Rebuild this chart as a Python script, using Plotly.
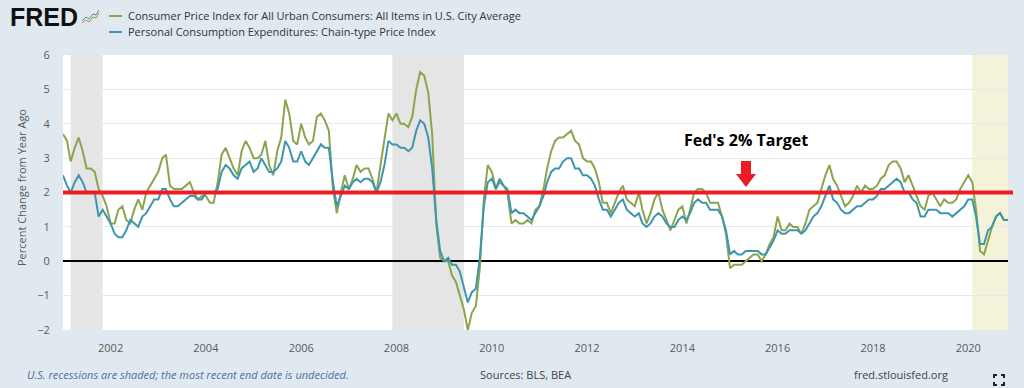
import pandas as pd
import plotly.graph_objects as go

# ---------------- data (monthly, percent change from year ago) ----------------
start_month = "2001-01-01"
cpi = [
    3.7, 3.5, 2.9, 3.3, 3.6, 3.2, 2.7, 2.7, 2.6, 2.1, 1.9, 1.6,   # 2001
    1.1, 1.1, 1.5, 1.6, 1.2, 1.1, 1.5, 1.8, 1.5, 2.0, 2.2, 2.4,   # 2002
    2.6, 3.0, 3.1, 2.2, 2.1, 2.1, 2.1, 2.2, 2.3, 2.0, 1.8, 1.9,   # 2003
    1.9, 1.7, 1.7, 2.3, 3.1, 3.3, 3.0, 2.7, 2.5, 3.2, 3.5, 3.3,   # 2004
    3.0, 3.0, 3.1, 3.5, 2.8, 2.5, 3.2, 3.6, 4.7, 4.3, 3.5, 3.4,   # 2005
    4.0, 3.6, 3.4, 3.5, 4.2, 4.3, 4.1, 3.8, 2.1, 1.4, 2.0, 2.5,   # 2006
    2.1, 2.4, 2.8, 2.6, 2.7, 2.7, 2.4, 2.0, 2.8, 3.5, 4.3, 4.1,   # 2007
    4.3, 4.0, 4.0, 3.9, 4.2, 5.0, 5.5, 5.4, 4.9, 3.7, 1.1, 0.1,   # 2008
    0.0, 0.0, -0.4, -0.6, -1.0, -1.4, -2.0, -1.5, -1.3, -0.2, 1.8, 2.8,  # 2009
    2.6, 2.1, 2.3, 2.2, 2.0, 1.1, 1.2, 1.1, 1.1, 1.2, 1.1, 1.5,   # 2010
    1.6, 2.1, 2.7, 3.2, 3.5, 3.6, 3.6, 3.7, 3.8, 3.5, 3.4, 3.0,   # 2011
    2.9, 2.9, 2.7, 2.3, 1.7, 1.7, 1.4, 1.7, 2.0, 2.2, 1.8, 1.7,   # 2012
    1.6, 2.0, 1.5, 1.1, 1.4, 1.8, 2.0, 1.5, 1.2, 0.9, 1.2, 1.5,   # 2013
    1.6, 1.1, 1.5, 2.0, 2.1, 2.1, 2.0, 1.7, 1.7, 1.7, 1.3, 0.8,   # 2014
    -0.2, -0.1, -0.1, -0.1, 0.0, 0.1, 0.2, 0.2, 0.0, 0.2, 0.5, 0.7,  # 2015
    1.3, 0.9, 0.9, 1.1, 1.0, 1.0, 0.8, 1.1, 1.5, 1.6, 1.7, 2.1,   # 2016
    2.5, 2.8, 2.4, 2.2, 1.9, 1.6, 1.7, 1.9, 2.2, 2.0, 2.2, 2.1,   # 2017
    2.1, 2.2, 2.4, 2.5, 2.8, 2.9, 2.9, 2.7, 2.3, 2.5, 2.2, 1.9,   # 2018
    1.6, 1.5, 1.9, 2.0, 1.8, 1.6, 1.8, 1.7, 1.7, 1.8, 2.1, 2.3,   # 2019
    2.5, 2.3, 1.5, 0.3, 0.2, 0.6, 1.0, 1.3, 1.4, 1.2, 1.2,        # 2020
]
pce = [
    2.5, 2.2, 2.0, 2.3, 2.5, 2.3, 2.0, 2.0, 2.0, 1.3, 1.5, 1.3,   # 2001
    1.1, 0.8, 0.7, 0.7, 0.9, 1.2, 1.1, 1.0, 1.3, 1.4, 1.6, 1.8,   # 2002
    1.8, 2.1, 2.1, 1.8, 1.6, 1.6, 1.7, 1.8, 1.9, 1.9, 1.8, 1.8,   # 2003
    2.0, 2.0, 2.0, 2.1, 2.6, 2.8, 2.7, 2.5, 2.4, 2.7, 2.8, 2.9,   # 2004
    2.6, 2.7, 3.0, 2.8, 2.6, 2.6, 2.7, 2.9, 3.5, 3.3, 2.9, 2.9,   # 2005
    3.2, 2.9, 2.8, 3.0, 3.2, 3.4, 3.3, 3.3, 2.3, 1.6, 1.9, 2.2,   # 2006
    2.1, 2.3, 2.4, 2.3, 2.4, 2.4, 2.3, 2.0, 2.3, 2.8, 3.5, 3.4,   # 2007
    3.4, 3.3, 3.3, 3.2, 3.3, 3.8, 4.1, 4.0, 3.6, 2.7, 1.2, 0.3,   # 2008
    0.0, 0.1, -0.1, -0.1, -0.3, -0.8, -1.2, -0.9, -0.8, 0.1, 1.6, 2.3,  # 2009
    2.4, 2.1, 2.4, 2.2, 2.1, 1.4, 1.5, 1.4, 1.4, 1.3, 1.2, 1.4,   # 2010
    1.6, 1.9, 2.3, 2.6, 2.7, 2.7, 2.9, 3.0, 3.0, 2.7, 2.7, 2.5,   # 2011
    2.5, 2.4, 2.2, 1.8, 1.5, 1.5, 1.3, 1.5, 1.7, 1.8, 1.5, 1.4,   # 2012
    1.3, 1.4, 1.1, 1.0, 1.1, 1.3, 1.4, 1.3, 1.1, 1.0, 1.0, 1.2,   # 2013
    1.3, 1.2, 1.4, 1.7, 1.8, 1.7, 1.7, 1.5, 1.5, 1.5, 1.3, 0.9,   # 2014
    0.2, 0.3, 0.2, 0.2, 0.3, 0.3, 0.3, 0.3, 0.2, 0.2, 0.4, 0.6,   # 2015
    0.9, 0.8, 0.8, 0.9, 0.9, 0.9, 0.8, 0.9, 1.1, 1.3, 1.4, 1.6,   # 2016
    1.9, 2.2, 1.8, 1.7, 1.5, 1.4, 1.4, 1.5, 1.6, 1.6, 1.7, 1.8,   # 2017
    1.8, 1.9, 2.1, 2.1, 2.2, 2.3, 2.4, 2.3, 2.0, 2.0, 1.8, 1.7,   # 2018
    1.3, 1.3, 1.5, 1.5, 1.5, 1.4, 1.4, 1.4, 1.3, 1.4, 1.5, 1.6,   # 2019
    1.8, 1.8, 1.3, 0.5, 0.5, 0.9, 1.0, 1.3, 1.4, 1.2, 1.2,        # 2020
]
cpi_name = "Consumer Price Index for All Urban Consumers: All Items in U.S. City Average"
pce_name = "Personal Consumption Expenditures: Chain-type Price Index"
recession_starts = ["2001-03-01", "2007-12-01"]
recession_ends = ["2001-11-01", "2009-06-01"]
open_recession = ["2020-02-01", "2020-11-01"]
target_rate = 2
tick_years = [str(y) for y in range(2002, 2021, 2)]
y_ticks = [-2, -1, 0, 1, 2, 3, 4, 5, 6]

dates = pd.date_range(start_month, periods=len(cpi), freq="MS")

# ---------------- layout geometry helpers (page pixels -> paper) ----------------
W, H = 1024, 388
L, R, T, B = 63, 16, 55, 58
PW, PH = W - L - R, H - T - B


def px(x):
    return (x - L) / PW


def py(y):
    return (H - B - y) / PH


GREEN = "#89A54E"
BLUE = "#3D96AE"
RED = "#ED1C24"
FONT = "Open Sans"
BG = "#e1e9f0"

fig = go.Figure()
fig.add_trace(go.Scatter(x=dates, y=cpi, mode="lines", name=cpi_name,
                         line=dict(color=GREEN, width=2)))
fig.add_trace(go.Scatter(x=dates, y=pce, mode="lines", name=pce_name,
                         line=dict(color=BLUE, width=2)))

shapes = []
for s, e in zip(recession_starts, recession_ends):
    shapes.append(dict(type="rect", xref="x", yref="paper", x0=s, x1=e, y0=0, y1=1,
                       fillcolor="#e5e5e5", line_width=0, layer="below"))
shapes.append(dict(type="rect", xref="x", yref="paper", x0=open_recession[0],
                   x1=open_recession[1], y0=0, y1=1, fillcolor="#f4f3d9",
                   line_width=0, layer="below"))
# Fed target line
shapes.append(dict(type="line", xref="paper", yref="y", x0=0, x1=px(1013),
                   y0=target_rate, y1=target_rate, line=dict(color=RED, width=4),
                   layer="above"))
# red block arrow
ax, top, neck, tip = 746, 161, 174, 187
arrow_path = (f"M {px(ax-5)} {py(top)} L {px(ax+5)} {py(top)} L {px(ax+5)} {py(neck)} "
              f"L {px(ax+10)} {py(neck)} L {px(ax)} {py(tip)} L {px(ax-10)} {py(neck)} "
              f"L {px(ax-5)} {py(neck)} Z")
shapes.append(dict(type="path", xref="paper", yref="paper", path=arrow_path,
                   fillcolor=RED, line_width=0, layer="above"))
# manual legend symbols
for yy, col in [(16, GREEN), (32, BLUE)]:
    shapes.append(dict(type="line", xref="paper", yref="paper", x0=px(109), x1=px(122),
                       y0=py(yy), y1=py(yy), line=dict(color=col, width=2)))
# FRED logo icon
shapes.append(dict(type="rect", xref="paper", yref="paper", x0=px(81), x1=px(100),
                   y0=py(25), y1=py(8), fillcolor="#e4e6e8", line_width=0))
shapes.append(dict(type="path", xref="paper", yref="paper",
                   path=f"M {px(82)} {py(21)} L {px(86)} {py(17)} L {px(89)} {py(19)} L {px(93)} {py(14)} L {px(96)} {py(15)} L {px(99)} {py(10)}",
                   line=dict(color=BLUE, width=1)))
shapes.append(dict(type="path", xref="paper", yref="paper",
                   path=f"M {px(82)} {py(23)} L {px(86)} {py(20)} L {px(89)} {py(22)} L {px(93)} {py(17)} L {px(96)} {py(18)} L {px(99)} {py(13)}",
                   line=dict(color=GREEN, width=1)))
# fullscreen icon corners
cx0, cx1, cy0, cy1, k = 994, 1004, 375, 385, 3
for (x, y, dx, dy) in [(cx0, cy0, 1, 1), (cx1, cy0, -1, 1), (cx0, cy1, 1, -1), (cx1, cy1, -1, -1)]:
    shapes.append(dict(type="path", xref="paper", yref="paper",
                       path=f"M {px(x)} {py(y + dy*k)} L {px(x)} {py(y)} L {px(x + dx*k)} {py(y)}",
                       line=dict(color="#222222", width=2)))

annotations = [
    dict(text="<b>FRED</b>", x=px(8), y=py(17), xref="paper", yref="paper",
         xanchor="left", yanchor="middle", showarrow=False,
         font=dict(family="Liberation Sans", size=25, color="#111111")),
    dict(text=cpi_name, x=px(126), y=py(16), xref="paper", yref="paper",
         xanchor="left", yanchor="middle", showarrow=False,
         font=dict(family=FONT, size=11, color="#333333")),
    dict(text=pce_name, x=px(126), y=py(32), xref="paper", yref="paper",
         xanchor="left", yanchor="middle", showarrow=False,
         font=dict(family=FONT, size=11, color="#333333")),
    dict(text="<b>Fed's 2% Target</b>", x=px(746), y=py(140), xref="paper", yref="paper",
         xanchor="center", yanchor="middle", showarrow=False,
         font=dict(family=FONT, size=16, color="#000000")),
    dict(text="Percent Change from Year Ago", x=px(21), y=py(188), xref="paper",
         yref="paper", xanchor="center", yanchor="middle", textangle=-90,
         showarrow=False, font=dict(family=FONT, size=11, color="#595959")),
    dict(text="<i>U.S. recessions are shaded; the most recent end date is undecided.</i>",
         x=px(25), y=py(374), xref="paper", yref="paper", xanchor="left",
         yanchor="middle", showarrow=False,
         font=dict(family=FONT, size=11, color="#4d6fa3")),
    dict(text="Sources: BLS, BEA", x=px(478), y=py(374), xref="paper", yref="paper",
         xanchor="left", yanchor="middle", showarrow=False,
         font=dict(family=FONT, size=11, color="#444444")),
    dict(text="fred.stlouisfed.org", x=px(852), y=py(374), xref="paper", yref="paper",
         xanchor="left", yanchor="middle", showarrow=False,
         font=dict(family=FONT, size=11, color="#444444")),
]

fig.update_layout(
    width=W, height=H,
    margin=dict(l=L, r=R, t=T, b=B),
    paper_bgcolor=BG,
    plot_bgcolor="#ffffff",
    showlegend=False,
    hovermode=False,
    shapes=shapes,
    annotations=annotations,
    font=dict(family=FONT, size=11, color="#595959"),
    xaxis=dict(
        type="date", range=[dates[0], dates[-1]],
        tickvals=[f"{y}-01-01" for y in tick_years], ticktext=tick_years,
        showgrid=False, zeroline=False, showline=False,
        ticks="outside", ticklen=8, tickcolor="rgba(0,0,0,0)",
        tickfont=dict(family=FONT, size=11, color="#595959"),
    ),
    yaxis=dict(
        range=[-2, 6], tickvals=y_ticks, showgrid=True, gridcolor="#e8e8e8",
        gridwidth=1, zeroline=True, zerolinecolor="#000000", zerolinewidth=2,
        ticks="outside", ticklen=10, tickcolor="rgba(0,0,0,0)",
        tickfont=dict(family=FONT, size=11, color="#595959"),
    ),
)

fig.write_html(
    "out.html",
    config={"displayModeBar": False},
    post_script=f"document.body.style.margin='0';document.body.style.overflow='hidden';"
                f"document.body.style.background='{BG}';",
)
